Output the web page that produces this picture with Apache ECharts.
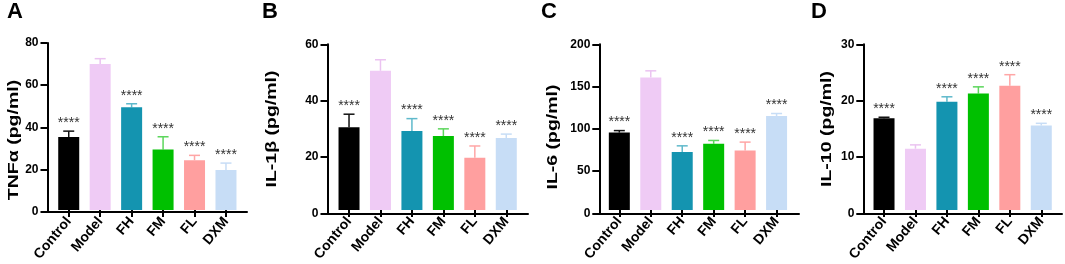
<!DOCTYPE html>
<html><head><meta charset="utf-8">
<script src="https://cdn.jsdelivr.net/npm/echarts@6/dist/echarts.min.js"></script>
<style>html,body{margin:0;padding:0;background:#fff}#c{width:1065px;height:264px}</style>
</head><body><div id="c"></div>
<script>
// ---- data ----
const categories = ['Control', 'Model', 'FH', 'FM', 'FL', 'DXM'];
const tnfMean  = [35.0, 70.0, 49.2, 29.0, 23.9, 19.2];
const tnfSd    = [2.8, 2.5, 1.7, 6.1, 2.3, 3.3];
const il1bMean = [30.0, 50.4, 28.6, 26.8, 18.9, 26.1];
const il1bSd   = [4.7, 4.0, 4.5, 2.6, 4.3, 1.4];
const il6Mean  = [93.5, 160.0, 70.0, 80.0, 72.0, 113.5];
const il6Sd    = [2.4, 8.0, 7.5, 4.0, 10.0, 3.0];
const il10Mean = [16.6, 11.1, 19.6, 21.1, 22.5, 15.3];
const il10Sd   = [0.2, 0.7, 0.9, 1.2, 2.0, 0.4];
const tnfSig  = ['****', '', '****', '****', '****', '****'];
const il1bSig = ['****', '', '****', '****', '****', '****'];
const il6Sig  = ['****', '', '****', '****', '****', '****'];
const il10Sig = ['****', '', '****', '****', '****', '****'];
const panelLetters = ['A', 'B', 'C', 'D'];
const yNames = ['TNFα (pg/ml)', 'IL-1β (pg/ml)', 'IL-6 (pg/ml)', 'IL-10 (pg/ml)'];
const yMax = [80, 60, 200, 30];
const yStep = [20, 20, 50, 10];

// ---- styles / layout ----
const barColors = ['#000000', '#EFCBF5', '#1494B0', '#00C000', '#FF9F9F', '#C7DDF6'];
const errColors = ['#111111', '#EBC3F1', '#5FB9CB', '#5CD65C', '#FFA6A6', '#C7DDF6'];
const FONT = '"Liberation Sans", Arial, sans-serif';
const layout = [
  {ax: 47.5, end: 247, band: 53, top: 43, bottom: 211.5, lx: 7, nx: 13.5, ny: 140},
  {ax: 327.5, end: 528, band: 333.3, top: 44.3, bottom: 213.3, lx: 262, nx: 272, ny: 129},
  {ax: 599.3, end: 799, band: 603.6, top: 44.3, bottom: 213.3, lx: 541, nx: 552.5, ny: 137},
  {ax: 863.3, end: 1062, band: 868.3, top: 44.3, bottom: 213.3, lx: 811, nx: 827, ny: 129}
];
const means = [tnfMean, il1bMean, il6Mean, il10Mean];
const sds = [tnfSd, il1bSd, il6Sd, il10Sd];
const sigs = [tnfSig, il1bSig, il6Sig, il10Sig];
const BAND = 31.45;

const grid = [], xAxis = [], yAxis = [], series = [], graphic = [];
layout.forEach((L, p) => {
  const h = L.bottom - L.top;
  grid.push({left: L.ax, top: L.top, width: L.end - L.ax, height: h});
  grid.push({left: L.band, top: L.top, width: BAND * 6, height: h});
  const go = 2 * p, gi = 2 * p + 1;
  xAxis.push({gridIndex: go, type: 'value', min: 0, max: 1,
    axisLine: {show: true, onZero: false, lineStyle: {color: '#000', width: 2}},
    axisTick: {show: false}, axisLabel: {show: false}, splitLine: {show: false}});
  xAxis.push({gridIndex: gi, type: 'category', data: categories,
    axisLine: {show: false},
    axisTick: {show: true, alignWithLabel: true, length: 7, lineStyle: {color: '#000', width: 2}},
    axisLabel: {rotate: 50, margin: 9, fontFamily: FONT, fontWeight: 'bold', fontSize: 14, color: '#000', interval: 0},
    splitLine: {show: false}});
  yAxis.push({gridIndex: go, type: 'value', min: 0, max: yMax[p], interval: yStep[p],
    axisLine: {show: true, onZero: false, lineStyle: {color: '#000', width: 2}},
    axisTick: {show: true, inside: false, length: 7, lineStyle: {color: '#000', width: 2}},
    axisLabel: {fontFamily: FONT, fontWeight: 'bold', fontSize: 12, color: '#000', margin: 9},
    splitLine: {show: false}});
  yAxis.push({gridIndex: gi, type: 'value', min: 0, max: yMax[p], interval: yStep[p], show: false});
  series.push({type: 'bar', xAxisIndex: gi, yAxisIndex: gi, barWidth: 21,
    data: means[p].map((v, i) => ({value: v, itemStyle: {color: barColors[i]}})),
    silent: true, animation: false});
  series.push({type: 'custom', xAxisIndex: gi, yAxisIndex: gi, silent: true, animation: false,
    data: means[p].map((v, i) => [i, v, sds[p][i]]),
    renderItem: function (params, api) {
      const i = api.value(0), m = api.value(1), s = api.value(2);
      const p0 = api.coord([i, m]), p1 = api.coord([i, m + s]);
      const col = errColors[i];
      const children = [
        {type: 'line', shape: {x1: p0[0], y1: p0[1], x2: p1[0], y2: p1[1]}, style: {stroke: col, lineWidth: 1.5}},
        {type: 'line', shape: {x1: p1[0] - 5.5, y1: p1[1], x2: p1[0] + 5.5, y2: p1[1]}, style: {stroke: col, lineWidth: 1.5}}
      ];
      const t = sigs[p][i];
      if (t) children.push({type: 'text', x: p1[0], y: p1[1] - 8,
        style: {text: t, align: 'center', verticalAlign: 'middle', fill: '#333', font: '14px ' + FONT}});
      return {type: 'group', children: children};
    }});
  graphic.push({type: 'text', left: L.lx, top: 1,
    style: {text: panelLetters[p], font: 'bold 22px ' + FONT, fill: '#000'}});
  graphic.push({type: 'text', x: L.nx, y: L.ny, rotation: Math.PI / 2, scaleX: 1.3, scaleY: 1,
    style: {text: yNames[p], font: 'bold 15px ' + FONT, fill: '#000', align: 'center', verticalAlign: 'middle'}});
});

const chart = echarts.init(document.getElementById('c'), null, {renderer: 'canvas'});
chart.setOption({animation: false, grid, xAxis, yAxis, series, graphic});
</script></body></html>
